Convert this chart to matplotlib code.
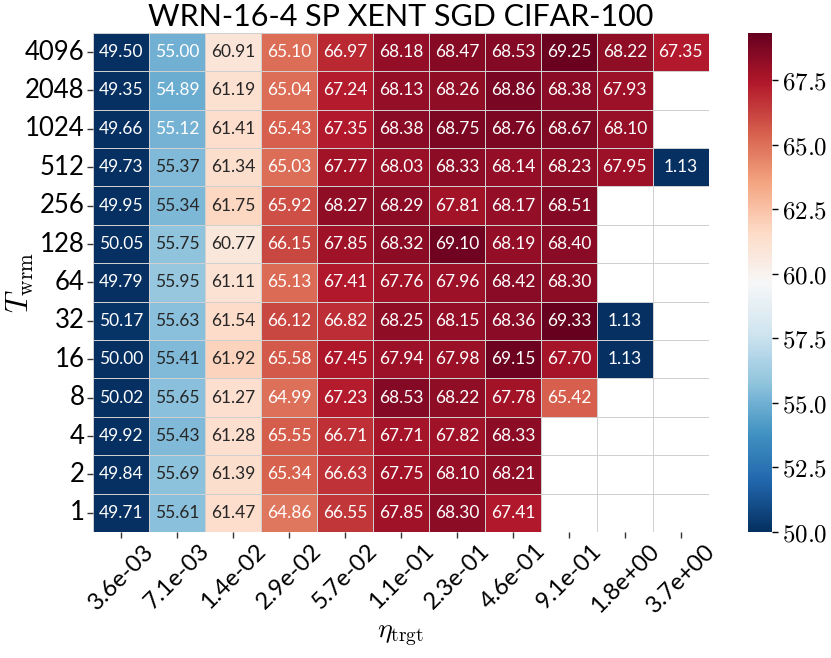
"""Heatmap of final accuracy over warmup length and target learning rate."""

import matplotlib

matplotlib.use("Agg")
import matplotlib.pyplot as plt
import numpy as np
import seaborn as sns

nan = np.nan

warmup_labels = ["4096", "2048", "1024", "512", "256", "128", "64", "32", "16", "8", "4", "2", "1"]
lr_labels = ["3.6e-03", "7.1e-03", "1.4e-02", "2.9e-02", "5.7e-02", "1.1e-01",
             "2.3e-01", "4.6e-01", "9.1e-01", "1.8e+00", "3.7e+00"]

acc_4096 = [49.50, 55.00, 60.91, 65.10, 66.97, 68.18, 68.47, 68.53, 69.25, 68.22, 67.35]
acc_2048 = [49.35, 54.89, 61.19, 65.04, 67.24, 68.13, 68.26, 68.86, 68.38, 67.93, nan]
acc_1024 = [49.66, 55.12, 61.41, 65.43, 67.35, 68.38, 68.75, 68.76, 68.67, 68.10, nan]
acc_512 = [49.73, 55.37, 61.34, 65.03, 67.77, 68.03, 68.33, 68.14, 68.23, 67.95, 1.13]
acc_256 = [49.95, 55.34, 61.75, 65.92, 68.27, 68.29, 67.81, 68.17, 68.51, nan, nan]
acc_128 = [50.05, 55.75, 60.77, 66.15, 67.85, 68.32, 69.10, 68.19, 68.40, nan, nan]
acc_64 = [49.79, 55.95, 61.11, 65.13, 67.41, 67.76, 67.96, 68.42, 68.30, nan, nan]
acc_32 = [50.17, 55.63, 61.54, 66.12, 66.82, 68.25, 68.15, 68.36, 69.33, 1.13, nan]
acc_16 = [50.00, 55.41, 61.92, 65.58, 67.45, 67.94, 67.98, 69.15, 67.70, 1.13, nan]
acc_8 = [50.02, 55.65, 61.27, 64.99, 67.23, 68.53, 68.22, 67.78, 65.42, nan, nan]
acc_4 = [49.92, 55.43, 61.28, 65.55, 66.71, 67.71, 67.82, 68.33, nan, nan, nan]
acc_2 = [49.84, 55.69, 61.39, 65.34, 66.63, 67.75, 68.10, 68.21, nan, nan, nan]
acc_1 = [49.71, 55.61, 61.47, 64.86, 66.55, 67.85, 68.30, 67.41, nan, nan, nan]


def plot_heatmap(save_path="out.png"):
    """Draw the warmup / learning-rate heatmap."""
    plt.rcParams["font.family"] = ["Lato", "DejaVu Sans"]
    plt.rcParams["mathtext.fontset"] = "cm"

    data = np.array([acc_4096, acc_2048, acc_1024, acc_512, acc_256, acc_128, acc_64,
                     acc_32, acc_16, acc_8, acc_4, acc_2, acc_1])
    n_rows, n_cols = data.shape

    fig = plt.figure(figsize=(8.31, 6.58), dpi=100)
    ax = fig.add_axes([0.112, 0.1915, 0.741, 0.7585])
    cax = fig.add_axes([0.900, 0.1915, 0.029, 0.7585])

    # grid lines for empty cells
    for i in range(n_rows + 1):
        ax.axhline(i, color="#e0e0e0", lw=0.6, zorder=0)
    for j in range(n_cols + 1):
        ax.axvline(j, color="#e0e0e0", lw=0.6, zorder=0)

    sns.heatmap(data, ax=ax, cbar_ax=cax, cmap="RdBu_r", vmin=50, vmax=np.nanmax(data),
                mask=np.isnan(data), annot=True, fmt=".2f",
                annot_kws={"fontsize": 12.5}, linewidths=0.6, linecolor="#d0d0d0")

    ax.set_xlim(0, n_cols)
    ax.set_ylim(n_rows, 0)
    ax.set_xticks(np.arange(n_cols) + 0.5)
    ax.set_xticklabels(lr_labels, rotation=45, fontsize=17, ha="center")
    ax.set_yticks(np.arange(n_rows) + 0.5)
    ax.set_yticklabels(warmup_labels, rotation=0, fontsize=18.5)
    ax.tick_params(axis="both", length=4, width=1, color="#333333", pad=2)
    for spine in ax.spines.values():
        spine.set_visible(False)

    ax.set_xlabel(r"$\eta_{\rm trgt}$", fontsize=20, labelpad=4)
    ax.set_ylabel(r"$T_{\rm wrm}$", fontsize=22)
    ax.yaxis.set_label_coords(-0.092, 0.5)
    ax.set_title("WRN-16-4 SP XENT SGD CIFAR-100", fontsize=22, pad=5)

    cbar_ticks = [50.0, 52.5, 55.0, 57.5, 60.0, 62.5, 65.0, 67.5]
    cax.set_yticks(cbar_ticks)
    cax.set_yticklabels([f"${t:.1f}$" for t in cbar_ticks], fontsize=18)
    cax.tick_params(length=4, width=1)

    plt.savefig(save_path, dpi=100)
    plt.close()


if __name__ == "__main__":
    plot_heatmap()
